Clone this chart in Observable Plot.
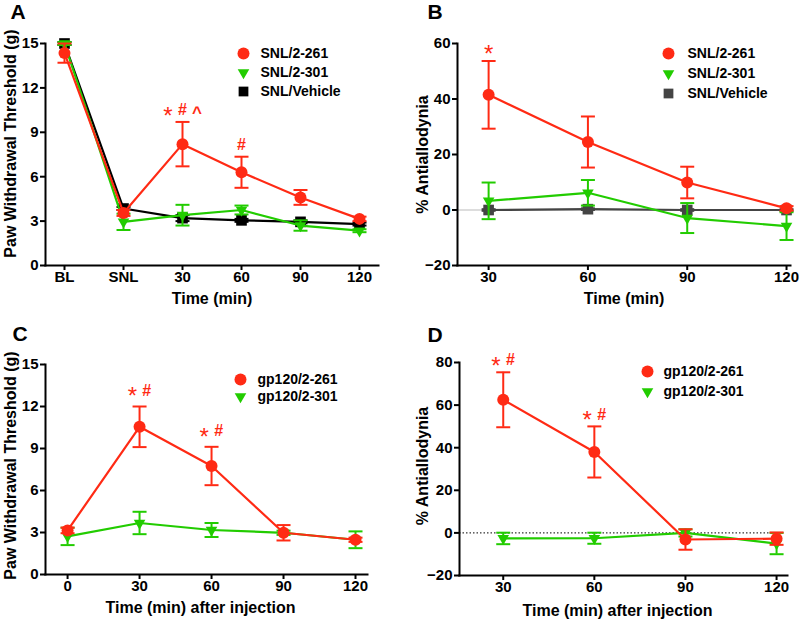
<!DOCTYPE html>
<html><head><meta charset="utf-8">
<script src="https://cdn.jsdelivr.net/npm/d3@7"></script>
<script src="https://cdn.jsdelivr.net/npm/@observablehq/plot@0.6"></script>
<style>
body{margin:0;background:#fff;}
#wrap{position:relative;width:800px;height:619px;overflow:hidden;background:#fff;}
.panel{position:absolute;}
</style></head><body><div id="wrap"></div>
<script>
const RED = "#ff2a14", GREEN = "#22cc00", BLACK = "#000000", GRAY = "#444444";

// ---- Panel A ----
const timeA = ["BL", "SNL", "30", "60", "90", "120"];
const a261 = [14.35, 3.55, 8.2, 6.3, 4.6, 3.15];
const a261Err = [0.65, 0.2, 1.5, 1.05, 0.5, 0.15];
const a301 = [15.0, 2.95, 3.4, 3.75, 2.7, 2.35];
const a301Err = [0.1, 0.55, 0.7, 0.3, 0.35, 0.1];
const aVeh = [15.0, 3.85, 3.2, 3.05, 2.95, 2.8];
const aVehErr = [0.1, 0.1, 0.2, 0.1, 0.1, 0.1];
const ticksA = [0, 3, 6, 9, 12, 15];
const sigA = [{t: "30", s: "*"}, {t: "30", s: "#"}, {t: "30", s: "^"}, {t: "60", s: "#"}];

// ---- Panel B ----
const timeB = [30, 60, 90, 120];
const b261 = [41.5, 24.5, 9.9, 0.6];
const b261Err = [12.2, 9.2, 5.7, 0.8];
const b301 = [3.3, 6.2, -2.9, -5.8];
const b301Err = [6.6, 4.6, 5.4, 5.0];
const bVeh = [0, 0.3, 0, 0];
const bVehErr = [0.3, 0.3, 0.3, 0.3];
const ticksB = [-20, 0, 20, 40, 60];
const sigB = [{t: 30, s: "*"}];

// ---- Panel C ----
const timeC = [0, 30, 60, 90, 120];
const c261 = [3.15, 10.55, 7.75, 2.98, 2.48];
const c261Err = [0.2, 1.45, 1.37, 0.55, 0.15];
const c301 = [2.72, 3.68, 3.18, 2.98, 2.48];
const c301Err = [0.62, 0.8, 0.5, 0.15, 0.6];
const ticksC = [0, 3, 6, 9, 12, 15];
const sigC = [{t: 30, s: "*"}, {t: 30, s: "#"}, {t: 60, s: "*"}, {t: 60, s: "#"}];

// ---- Panel D ----
const timeD = [30, 60, 90, 120];
const d261 = [62.5, 38.0, -3.1, -2.7];
const d261Err = [12.9, 12.0, 4.8, 2.9];
const d301 = [-2.6, -2.5, 0.0, -5.0];
const d301Err = [2.7, 2.6, 1.7, 5.0];
const ticksD = [-20, 0, 20, 40, 60, 80];
const sigD = [{t: 30, s: "*"}, {t: 30, s: "#"}, {t: 60, s: "*"}, {t: 60, s: "#"}];

function rows(t, mean, err) {
  return t.map((x, i) => ({t: x, v: mean[i], lo: mean[i] - err[i], hi: mean[i] + err[i]}));
}

// horizontal cap symbol for error bars
const capSymbol = {
  draw(context, size) {
    const w = Math.sqrt(size / Math.PI);
    context.moveTo(-w, 0);
    context.lineTo(w, 0);
  }
};

function seriesMarks(data, color, symbol, r, rotate) {
  return [
    Plot.line(data, {x: "t", y: "v", stroke: color, strokeWidth: 2.2}),
    Plot.ruleX(data, {x: "t", y1: "lo", y2: "hi", stroke: color, strokeWidth: 2}),
    Plot.dot(data, {x: "t", y: "lo", symbol: capSymbol, r: 7, fill: "none", stroke: color, strokeWidth: 2}),
    Plot.dot(data, {x: "t", y: "hi", symbol: capSymbol, r: 7, fill: "none", stroke: color, strokeWidth: 2}),
    Plot.dot(data, {x: "t", y: "v", symbol, r, fill: color, stroke: "none", rotate})
  ];
}

function legendMarks(items, dxM, dxT, dys) {
  const m = [];
  items.forEach((it, i) => {
    m.push(Plot.dot([0], {frameAnchor: "top-left", dx: dxM, dy: dys[i], symbol: it.symbol, r: it.r, fill: it.color, stroke: "none", rotate: it.rotate}));
    m.push(Plot.text([it.label], {frameAnchor: "top-left", dx: dxT, dy: dys[i], textAnchor: "start", lineAnchor: "middle", fontSize: 14, fontWeight: "bold", fill: "#000"}));
  });
  return m;
}

// significance markers: each token drawn at the top of the red error bar
// with a horizontal offset within its group
function annot(data, sig, dy) {
  const marks = [];
  const groups = d3.group(sig, d => d.t);
  for (const [t, toks] of groups) {
    const hi = data.find(r => r.t === t).hi;
    const n = toks.length;
    toks.forEach((tok, j) => {
      const off = (j - (n - 1) / 2) * 14.5;
      const star = tok.s === "*";
      const caret = tok.s === "^";
      marks.push(Plot.text([{t, y: hi, s: tok.s}], {
        x: "t", y: "y", text: "s",
        dx: off, dy: dy + (star ? 6 : caret ? 3 : 0),
        fill: RED, fontSize: star ? 24 : caret ? 17 : 16, fontWeight: star ? "normal" : "bold",
        lineAnchor: "middle"
      }));
    });
  }
  return marks;
}

function mount(plot, left, top) {
  plot.classList.add("panel");
  plot.style.left = left + "px";
  plot.style.top = top + "px";
  document.getElementById("wrap").appendChild(plot);
}

const style = {fontFamily: "'Liberation Sans', Arial, sans-serif", fontWeight: "bold", fontSize: "15px", background: "transparent", overflow: "visible"};

function axes(xTicks, yTicks) {
  return [
    Plot.axisX({ticks: xTicks, tickSize: 5, tickPadding: 1, strokeWidth: 2, label: null, fontSize: 15}),
    Plot.axisY({ticks: yTicks, tickSize: 5, tickPadding: 2, strokeWidth: 2, label: null, fontSize: 15}),
    Plot.frame({anchor: "left", strokeWidth: 2}),
    Plot.frame({anchor: "bottom", strokeWidth: 2})
  ];
}

function yLabel(text, dx, dy) {
  return Plot.text([text], {frameAnchor: "left", dx, dy, rotate: -90, textAnchor: "middle", lineAnchor: "middle", fontSize: 16, fontWeight: "bold"});
}
function xLabel(text, dx, dy) {
  return Plot.text([text], {frameAnchor: "bottom", dx, dy, textAnchor: "middle", lineAnchor: "middle", fontSize: 16, fontWeight: "bold"});
}
function letter(text, dx, dy) {
  return Plot.text([text], {frameAnchor: "top-left", dx, dy, textAnchor: "start", lineAnchor: "middle", fontSize: 21, fontWeight: "bold"});
}

const sym261 = {symbol: "circle", r: 6, color: RED};
const sym301 = {symbol: "triangle", r: 4.3, color: GREEN, rotate: 180};

// ---------- A ----------
{
  const r261 = rows(timeA, a261, a261Err), r301 = rows(timeA, a301, a301Err), rVeh = rows(timeA, aVeh, aVehErr);
  const mL = 45, mT = 43;
  const p = Plot.plot({
    width: 400, height: 310, marginLeft: mL, marginRight: 22, marginTop: mT, marginBottom: 45,
    style,
    x: {type: "point", domain: timeA, padding: 0.3},
    y: {domain: [0, 15]},
    marks: [
      ...axes(undefined, ticksA),
      ...seriesMarks(rVeh, BLACK, "square", 6),
      ...seriesMarks(r301, GREEN, "triangle", 4.3, 180),
      ...seriesMarks(r261, RED, "circle", 6),
      ...annot(r261, sigA, -12),
      ...legendMarks([
        {...sym261, label: "SNL/2-261"},
        {...sym301, label: "SNL/2-301"},
        {symbol: "square", r: 5.5, color: BLACK, label: "SNL/Vehicle"}
      ], 198, 215, [10, 29, 48]),
      yLabel("Paw Withdrawal Threshold (g)", -35, -11),
      xLabel("Time (min)", 0, 33),
      letter("A", 10 - mL, 11.5 - mT)
    ]
  });
  mount(p, 0, 0);
}

// ---------- B ----------
{
  const r261 = rows(timeB, b261, b261Err), r301 = rows(timeB, b301, b301Err), rVeh = rows(timeB, bVeh, bVehErr);
  const mL = 57, mT = 43;
  const p = Plot.plot({
    width: 400, height: 310, marginLeft: mL, marginRight: 10, marginTop: mT, marginBottom: 45,
    style,
    x: {domain: [20.6, 121.2]},
    y: {domain: [-20, 60]},
    marks: [
      Plot.ruleY([0], {stroke: "#bbbbbb", strokeWidth: 1}),
      ...axes(timeB, ticksB),
      ...seriesMarks(rVeh, GRAY, "square", 6),
      ...seriesMarks(r301, GREEN, "triangle", 4.3, 180),
      ...seriesMarks(r261, RED, "circle", 6),
      ...annot(r261, sigB, -13),
      ...legendMarks([
        {...sym261, label: "SNL/2-261"},
        {...sym301, label: "SNL/2-301"},
        {symbol: "square", r: 5.5, color: GRAY, label: "SNL/Vehicle"}
      ], 211, 230, [10, 30, 50]),
      yLabel("% Antiallodynia", -35, 0),
      xLabel("Time (min)", 0, 33),
      letter("B", 27 - mL, 11.5 - mT)
    ]
  });
  mount(p, 400, 0);
}

// ---------- C ----------
{
  const r261 = rows(timeC, c261, c261Err), r301 = rows(timeC, c301, c301Err);
  const mL = 45, mT = 54;
  const p = Plot.plot({
    width: 400, height: 309, marginLeft: mL, marginRight: 33, marginTop: mT, marginBottom: 45,
    style,
    x: {domain: [-9.2, 125]},
    y: {domain: [0, 15]},
    marks: [
      ...axes(timeC, ticksC),
      ...seriesMarks(r301, GREEN, "triangle", 4.3, 180),
      ...seriesMarks(r261, RED, "circle", 6),
      ...annot(r261, sigC, -16),
      ...legendMarks([
        {...sym261, label: "gp120/2-261"},
        {...sym301, label: "gp120/2-301"}
      ], 195, 212, [15, 32]),
      yLabel("Paw Withdrawal Threshold (g)", -35, -4),
      xLabel("Time (min) after injection", -6, 33),
      letter("C", 12 - mL, 23.5 - mT)
    ]
  });
  mount(p, 0, 310);
}

// ---------- D ----------
{
  const r261 = rows(timeD, d261, d261Err), r301 = rows(timeD, d301, d301Err);
  const mL = 59, mT = 52;
  const p = Plot.plot({
    width: 400, height: 309, marginLeft: mL, marginRight: 13, marginTop: mT, marginBottom: 44,
    style,
    x: {domain: [15.6, 123.6]},
    y: {domain: [-20, 80]},
    marks: [
      Plot.ruleY([0], {x1: 15.6, x2: 120, stroke: "#000", strokeWidth: 1, strokeDasharray: "1.5 2"}),
      ...axes(timeD, ticksD),
      ...seriesMarks(r301, GREEN, "triangle", 4.3, 180),
      ...seriesMarks(r261, RED, "circle", 6),
      ...annot(r261, sigD, -12),
      ...legendMarks([
        {...sym261, label: "gp120/2-261"},
        {...sym301, label: "gp120/2-301"}
      ], 188, 204, [9, 29]),
      yLabel("% Antiallodynia", -37, -3),
      xLabel("Time (min) after injection", -6, 35),
      letter("D", 27 - mL, 24.5 - mT)
    ]
  });
  mount(p, 400, 310);
}
</script></body></html>
